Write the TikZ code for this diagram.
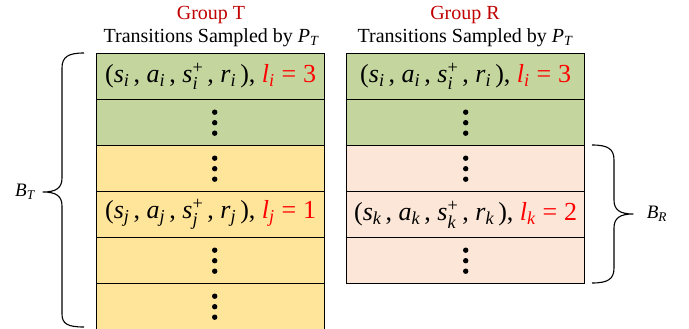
\documentclass[tikz,border=0pt]{standalone}
\usepackage{amsmath}
\usepackage{fontspec}
\setmainfont{Liberation Serif}
\definecolor{cgreen}{HTML}{C4D69E}
\definecolor{cyellow}{HTML}{FFE59A}
\definecolor{cpeach}{HTML}{FBE6D7}
\definecolor{dred}{HTML}{C00000}
\newcommand{\vi}[1]{\textit{#1}}
\newcommand{\tup}[2]{$\text{(}\vi{s}_{\vi{#1}}\,\text{, }\vi{a}_{\vi{#1}}\,\text{, }\vi{s}^{\text{+}}_{\vi{#1}}\,\text{, }\vi{r}_{\vi{#1}}\,\text{), }$\textcolor{red}{$\vi{l}_{\vi{#1}}\mathrel{\text{=}}\text{#2}$}}
\begin{document}
\begin{tikzpicture}[x=1pt,y=-1pt,
  cell/.style={draw=black,line width=1.4pt,inner sep=0pt,minimum height=46pt,anchor=north west,font=\fontsize{26}{30}\selectfont},
  lcell/.style={cell,minimum width=228pt},
  rcell/.style={cell,minimum width=238pt},
  head/.style={font=\fontsize{20}{24}\selectfont,inner sep=0pt},
  blabel/.style={font=\fontsize{19}{22}\selectfont,inner sep=0pt},
  bracepath/.style={line width=1.1pt,line join=round}]
\useasboundingbox (0,0) rectangle (689,329);
\begin{scope}
\clip (0,0) rectangle (689,329);
% left column
\node[lcell,fill=cgreen]  (t1) at (96,53)  {\tup{i}{3}};
\node[lcell,fill=cgreen]  (t2) at (96,99)  {};
\node[lcell,fill=cyellow] (t3) at (96,145) {};
\node[lcell,fill=cyellow] (t4) at (96,191) {\tup{j}{1}};
\node[lcell,fill=cyellow] (t5) at (96,237) {};
\node[lcell,fill=cyellow] (t6) at (96,283) {};
% right column
\node[rcell,fill=cgreen] (r1) at (346,53)  {\tup{i}{3}};
\node[rcell,fill=cgreen] (r2) at (346,99)  {};
\node[rcell,fill=cpeach] (r3) at (346,145) {};
\node[rcell,fill=cpeach] (r4) at (346,191) {\tup{k}{2}};
\node[rcell,fill=cpeach] (r5) at (346,237) {};
\end{scope}
% dots
\foreach \n in {t2,t3,t5,t6}
  \foreach \d in {-10.5,0,10.5}
    \fill ([xshift=4pt]\n.center) ++(0,\d) circle (2.7pt);
\foreach \n in {r2,r3,r5}
  \foreach \d in {-10.5,0,10.5}
    \fill (\n.center) ++(0,\d) circle (2.7pt);
% headings
\node[head,text=dred] (gt) at (211,15) {Group T};
\node[head] (st) at (211,38) {Transitions Sampled by $\vi{P}_{\vi{T}}$};
\node[head,text=dred] (gr) at (465,15) {Group R};
\node[head] (sr) at (465,38) {Transitions Sampled by $\vi{P}_{\vi{T}}$};
% braces
\draw[bracepath] (84,53) .. controls (68,53) and (62,57) .. (62,68) -- (62,178)
  .. controls (62,188) and (56,192) .. (43,192)
  .. controls (56,192) and (62,196) .. (62,206) -- (62,314)
  .. controls (62,324) and (68,327) .. (84,327);
\draw[bracepath] (592,145) .. controls (608,145) and (614,149) .. (614,160) -- (614,200)
  .. controls (614,210) and (620,214) .. (633,214)
  .. controls (620,214) and (614,218) .. (614,228) -- (614,268)
  .. controls (614,279) and (608,283) .. (592,283);
\node[blabel] (bt) at (25,192) {$\vi{B}_{\vi{T}}$};
\node[blabel] (br) at (657,214) {$\vi{B}_{\vi{R}}$};
\end{tikzpicture}
\end{document}
